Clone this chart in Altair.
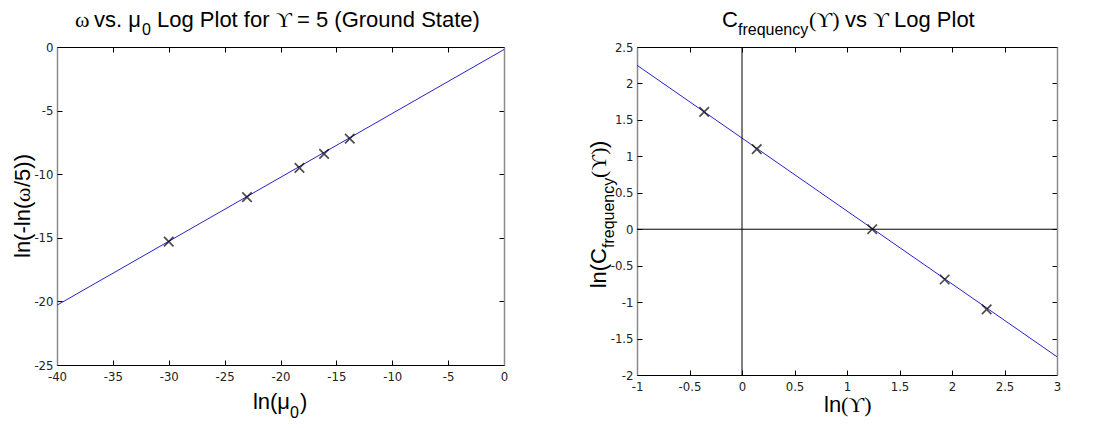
import altair as alt
import pandas as pd

# ---------------- data ----------------
# Left panel: omega vs mu0 (log-log)
mu_ln = [-30.0, -23.0, -18.3, -16.1, -13.8]
omega_ln = [-15.3, -11.8, -9.5, -8.4, -7.2]
fit_left_x = [-40.0, 0.0]
fit_left_y = [-20.3, -0.2]
left_xticks = [-40, -35, -30, -25, -20, -15, -10, -5, 0]
left_yticks = [-25, -20, -15, -10, -5, 0]

# Right panel: C_frequency vs Upsilon (log-log)
ups_ln = [-0.36, 0.14, 1.24, 1.93, 2.33]
cfreq_ln = [1.61, 1.10, 0.0, -0.69, -1.10]
fit_right_x = [-1.0, 3.0]
fit_right_y = [2.25, -1.75]
right_xticks = [-1, -0.5, 0, 0.5, 1, 1.5, 2, 2.5, 3]
right_yticks = [-2, -1.5, -1, -0.5, 0, 0.5, 1, 1.5, 2, 2.5]
zero_lines = [0.0]

TICKFONT = "'Liberation Sans Narrow', 'DejaVu Sans Condensed', 'Liberation Sans', Arial, sans-serif"
FONT = "'Liberation Sans', Arial, sans-serif"
SERIF = "'Liberation Serif', 'DejaVu Serif', serif"
XMARK = "M-1,-1L1,1M1,-1L-1,1"
LINE_COLOR = "#2323d0"
DUMMY = pd.DataFrame({"a": [0]})


def txt(s, x, y, size=22, align="center", angle=0, font=FONT):
    return alt.Chart(DUMMY).mark_text(
        text=s, align=align, baseline="alphabetic", fontSize=size,
        font=font, angle=angle, color="black"
    ).encode(x=alt.value(x), y=alt.value(y))


def panel(px, py, fx, fy, xdom, ydom, xticks, yticks, W, H, texts, zeros=False):
    pts = pd.DataFrame({"x": px, "y": py})
    fit = pd.DataFrame({"x": fx, "y": fy})
    xs = alt.Scale(domain=xdom, nice=False, zero=False)
    ys = alt.Scale(domain=ydom, nice=False, zero=False)

    lab = dict(labelFont=TICKFONT, labelFontSize=13, labelColor="#222",
               labelFlush=False, labelOverlap=False, labelExpr="'' + datum.value",
               title=None, grid=False)
    ax_x_main = alt.Axis(orient="bottom", values=xticks, ticks=False, labels=True,
                         domain=True, domainColor="black", domainWidth=1,
                         labelPadding=5, **lab)
    ax_y_main = alt.Axis(orient="left", values=yticks, ticks=False, labels=True,
                         domain=True, domainColor="#8a8a8a", domainWidth=1.5,
                         labelPadding=4, **lab)

    def tick_axis(orient, vals):
        return alt.Axis(orient=orient, values=vals, ticks=True, tickSize=5,
                        tickColor="black", tickWidth=1, labels=False, domain=False,
                        offset=-5, title=None, grid=False)

    def frame_axis(orient, vals, color, width):
        return alt.Axis(orient=orient, values=vals, ticks=False, labels=False,
                        domain=True, domainColor=color, domainWidth=width,
                        title=None, grid=False)

    line = alt.Chart(fit).mark_line(color=LINE_COLOR, strokeWidth=1, clip=True).encode(
        x=alt.X("x:Q", scale=xs, axis=ax_x_main),
        y=alt.Y("y:Q", scale=ys, axis=ax_y_main),
    )
    ticks_in = alt.Chart(pts).mark_point(opacity=0).encode(
        x=alt.X("x:Q", scale=xs, axis=tick_axis("bottom", xticks)),
        y=alt.Y("y:Q", scale=ys, axis=tick_axis("left", yticks)),
    )
    ticks_out = alt.Chart(pts).mark_point(opacity=0).encode(
        x=alt.X("x:Q", scale=xs, axis=tick_axis("top", xticks)),
        y=alt.Y("y:Q", scale=ys, axis=tick_axis("right", yticks)),
    )
    frame = alt.Chart(pts).mark_point(opacity=0).encode(
        x=alt.X("x:Q", scale=xs, axis=frame_axis("top", xticks, "black", 1)),
        y=alt.Y("y:Q", scale=ys, axis=frame_axis("right", yticks, "#8a8a8a", 1.5)),
    )
    layers = [line, ticks_in, ticks_out, frame]
    if zeros:
        zdf = pd.DataFrame({"z": zero_lines})
        layers.append(alt.Chart(zdf).mark_rule(color="black", strokeWidth=1).encode(
            x=alt.X("z:Q", scale=xs, axis=None)))
        layers.append(alt.Chart(zdf).mark_rule(color="black", strokeWidth=1).encode(
            y=alt.Y("z:Q", scale=ys, axis=None)))
    marks = alt.Chart(pts).mark_point(
        shape=XMARK, size=90, filled=False, color="black", strokeWidth=1.7
    ).encode(
        x=alt.X("x:Q", scale=xs, axis=None),
        y=alt.Y("y:Q", scale=ys, axis=None),
    )
    layers.append(marks)
    layers.extend(texts)
    return alt.layer(*layers).resolve_axis(x="independent", y="independent").properties(
        width=W, height=H)


left_texts = [
    # title
    txt("ω", 18, -20, align="left", font=SERIF),
    txt("vs. μ", 84, -20, align="right"),
    txt("0", 85, -12, size=16, align="left"),
    txt("Log Plot for", 100, -20, align="left"),
    txt("ϒ", 219, -20, align="left", font=SERIF),
    txt("= 5 (Ground State)", 240, -20, align="left"),
    # x title
    txt("ln(μ", 233, 362, align="right"),
    txt("0", 233, 371, size=16, align="left"),
    txt(")", 243, 362, align="left"),
    # y title (rotated)
    txt("ln(-ln(", -27, 211, align="left", angle=270),
    txt("ω", -27, 155, align="left", angle=270, font=SERIF),
    txt("/5))", -27, 140, align="left", angle=270),
]
right_texts = [
    # title
    txt("C", 101, -20, align="right"),
    txt("frequency", 101, -12, size=16, align="left"),
    txt("(ϒ)", 172, -20, align="left", font=SERIF),
    txt("vs", 208, -20, align="left"),
    txt("ϒ", 236, -20, align="left", font=SERIF),
    txt("Log Plot", 257, -20, align="left"),
    # x title
    txt("ln", 187, 365, align="left"),
    txt("(ϒ)", 204, 365, align="left", font=SERIF),
    # y title (rotated)
    txt("ln(C", -31, 201, align="right", angle=270),
    txt("frequency", -23, 201, size=16, align="left", angle=270),
    txt("(ϒ)", -31, 131, align="left", angle=270, font=SERIF),
    txt(")", -31, 101, align="left", angle=270),
]

left = panel(mu_ln, omega_ln, fit_left_x, fit_left_y, [-40, 0], [-25, 0],
             left_xticks, left_yticks, 447, 318, left_texts)
right = panel(ups_ln, cfreq_ln, fit_right_x, fit_right_y, [-1, 3], [-2, 2.5],
              right_xticks, right_yticks, 420, 328, right_texts, zeros=True)

chart = alt.hconcat(left, right, spacing=78).properties(
    padding={"left": 3, "top": 0, "right": 0, "bottom": 0}
).configure_view(stroke=None).configure(background="white")

chart.save("out.html", embed_options={"renderer": "svg", "actions": False})
